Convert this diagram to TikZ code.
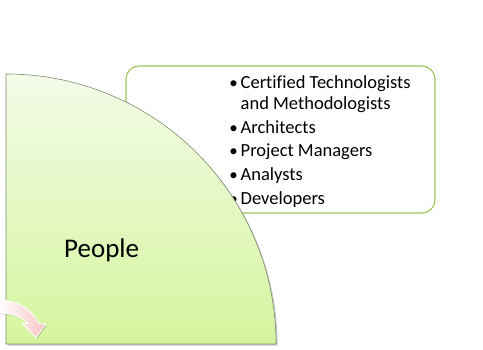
\documentclass[tikz,border=0pt]{standalone}
\usepackage{fontspec}
\setmainfont{Carlito}[Ligatures=NoCommon]
\usetikzlibrary{shadows}
\definecolor{boxgreen}{RGB}{158,196,88}
\definecolor{leaftop}{RGB}{243,251,232}
\definecolor{leafbot}{RGB}{213,245,158}
\definecolor{leafedge}{RGB}{128,140,112}
\definecolor{arrowpink}{RGB}{248,196,196}
\tikzset{
  listbox/.style={draw=boxgreen, line width=1.1pt, fill=white, rounded corners=13pt},
  leaf/.style={draw=leafedge, line width=0.6pt, top color=leaftop, bottom color=leafbot,
    drop shadow={shadow xshift=1.6pt, shadow yshift=-1.6pt, opacity=0.35, fill=black!60}},
  turn/.style={draw=white, line width=0.8pt, left color=white, right color=arrowpink,
    drop shadow={shadow xshift=1.2pt, shadow yshift=-1.2pt, opacity=0.3, fill=black!60}},
  itemtxt/.style={anchor=base west, inner sep=0pt, font=\fontsize{18.5}{21}\selectfont, text=black},
  bul/.style={anchor=base, inner sep=0pt, font=\fontsize{17}{21}\selectfont, text=black},
  title/.style={anchor=base west, inner sep=0pt, font=\fontsize{27}{31}\selectfont, text=black}
}
\begin{document}
\begin{tikzpicture}[x=1pt, y=-1pt]
  \useasboundingbox (0,0) rectangle (483,350);
  \fill[white] (0,0) rectangle (483,350);

  % rounded list panel
  \draw[listbox] (126,66) rectangle (435,213);
  \node[bul] (b1) at (233.5,89) {•};
  \node[itemtxt] (l1) at (240.5,89) {Certified Technologists};
  \node[itemtxt] (l2) at (240.5,110) {and Methodologists};
  \node[bul] (b2) at (233.5,134) {•};
  \node[itemtxt] (l3) at (240.5,134) {Architects};
  \node[bul] (b3) at (233.5,157) {•};
  \node[itemtxt] (l4) at (240.5,157) {Project Managers};
  \node[bul] (b4) at (233.5,181) {•};
  \node[itemtxt] (l5) at (240.5,181) {Analysts};
  \node[bul] (b5) at (233.5,205) {•};
  \node[itemtxt] (l6) at (240.5,205) {Developers};

  % quarter-circle segment
  \path[leaf] (6,344) -- (6,74) arc[start angle=-90, end angle=0, radius=270] -- cycle;
  \node[title] (people) at (64,258) {People};

  % curved arrow tail entering from the left
  \path[turn] (-2,300) .. controls (16,300) and (31,308) .. (38.5,323.5)
    -- (45.5,324.5) -- (36,337.5) -- (22,323) -- (28,323.5)
    .. controls (21,316) and (11,313) .. (-2,313) -- cycle;
\end{tikzpicture}
\end{document}
